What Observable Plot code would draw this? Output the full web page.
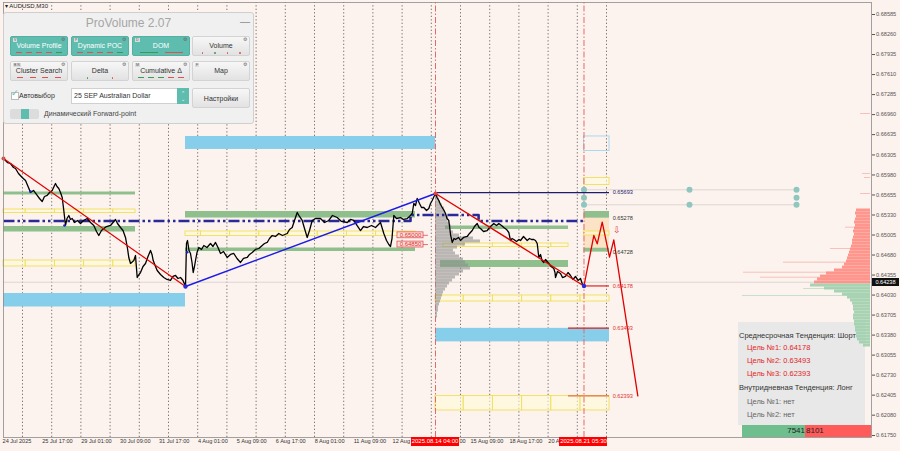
<!DOCTYPE html>
<html><head><meta charset="utf-8">
<script src="https://cdn.jsdelivr.net/npm/d3@7"></script>
<script src="https://cdn.jsdelivr.net/npm/@observablehq/plot@0.6"></script>
<style>
body{margin:0;background:#fdf3ee;}
#wrap{position:relative;width:900px;height:451px;overflow:hidden;background:#fdf3ee;font-family:"Liberation Sans",Arial,sans-serif;}
#chartHolder{position:absolute;left:0;top:0;z-index:1}
#info{position:absolute;left:738px;top:322px;width:127px;height:103px;background:#e8e8e8;z-index:0;font-size:7.5px;}
#info div{position:absolute;white-space:nowrap;line-height:10px}
.red{color:#e22626}.gry{color:#666}.dk{color:#333}
.vbar{position:absolute;top:425px;height:12px;font-size:8px;line-height:12px;color:#222;z-index:0}
.dlab{position:absolute;top:437px;height:9px;background:#ff0000;color:#fff;font-size:6px;line-height:9px;text-align:center;z-index:3;white-space:nowrap}
#cur{position:absolute;left:872px;width:27px;height:8px;background:#111;color:#fff;font-size:5.6px;line-height:8px;text-align:center;z-index:3}
#sym{position:absolute;left:5px;top:2px;font-size:6px;color:#222;z-index:3;white-space:nowrap}
#panel{position:absolute;left:3px;top:12px;width:251px;height:112px;background:#f0f0f0;border:1px solid #cfcfcf;border-radius:3px;z-index:4;box-sizing:border-box}
.ttl{position:absolute;left:0;width:100%;top:3px;text-align:center;font-size:12px;color:#a5a5a5}
.min{position:absolute;left:236px;top:3px;font-size:10px;color:#8a8a8a}
.btn{position:absolute;width:58px;height:20px;border-radius:2px;box-sizing:border-box;border:1px solid #d3d3d3;background:linear-gradient(#f7f7f7,#e2e2e2);color:#333}
.btn.teal{background:#5ebdaf;border-color:#52b1a3;color:#fff}
.lbl{position:absolute;left:0;right:0;top:5px;text-align:center;font-size:7px;line-height:8px;white-space:nowrap}
.key{position:absolute;left:2px;top:1px;font-size:3.5px;line-height:4px;background:#dcdcdc;color:#555;padding:0 1px}
.gear{position:absolute;right:2px;top:0px;font-size:4.5px;color:#666}
.ind{position:absolute;left:3px;right:3px;bottom:2px;height:1px;display:flex;justify-content:space-around}
.ind i{display:block;width:6px;height:1px;background:#e05050}
.ind i.g{background:#3a9a50}
.ind i.d{width:1.5px;height:1.5px;border-radius:1px}
.p3{position:absolute;font-size:7px;color:#333;white-space:nowrap}
</style></head><body><div id="wrap"></div>
<script>
// ---------- DATA ----------
const yTicks = [0.68585,0.68260,0.67935,0.67610,0.67285,0.66960,0.66635,0.66305,0.65980,0.65655,0.65330,0.65005,0.64680,0.64355,0.64030,0.63705,0.63380,0.63055,0.62730,0.62405,0.62080,0.61750];
// visible parts of the time labels (the rest is hidden under the red date boxes)
const xTickDays = [-0.65,0.708,2.042,3.375,4.708,6.042,7.375,8.708,10.042,11.375,12.708,15.0,15.375,16.708,18.042];
const xTickLabels = ["24 Jul 2025","25 Jul 17:00","29 Jul 01:00","30 Jul 09:00","31 Jul 17:00","4 Aug 01:00","5 Aug 09:00","6 Aug 17:00","8 Aug 01:00","11 Aug 09:00","12 Aug","00","15 Aug 09:00","18 Aug 17:00","20 A"];
const dayLines = [0,1,2,3,4,5,6,7,8,9,10,11,12,13,14,15,16,17,18,19,20];
const eventDays = [14.144,19.229];
const eventLabels = ["2025.08.14 04:00","2025.08.21 05:30"];
const currentPrice = 0.64238;

// price path: [trading day, price]
const priceSeries = [[-0.651,0.66247],[-0.514,0.66182],[-0.411,0.66166],[-0.308,0.66101],[-0.240,0.66085],[-0.137,0.66004],[-0.010,0.65939],[0.103,0.65890],[0.205,0.65777],[0.274,0.65695],[0.377,0.65728],[0.503,0.65647],[0.582,0.65598],[0.675,0.65549],[0.753,0.65630],[0.846,0.65647],[0.925,0.65695],[1.017,0.65728],[1.096,0.65809],[1.130,0.65841],[1.182,0.65793],[1.243,0.65760],[1.301,0.65695],[1.360,0.65614],[1.414,0.65403],[1.473,0.65160],[1.524,0.65273],[1.586,0.65322],[1.644,0.65257],[1.702,0.65273],[1.781,0.65208],[1.884,0.65241],[1.986,0.65192],[2.089,0.65241],[2.216,0.65273],[2.329,0.65208],[2.442,0.65160],[2.534,0.65062],[2.613,0.64997],[2.705,0.65078],[2.784,0.65111],[2.877,0.65143],[3.014,0.65160],[3.099,0.65208],[3.185,0.65257],[3.253,0.65192],[3.356,0.65127],[3.442,0.65078],[3.527,0.64965],[3.596,0.64786],[3.640,0.64640],[3.699,0.64543],[3.812,0.64591],[3.870,0.64672],[3.928,0.64315],[3.990,0.64364],[4.041,0.64396],[4.127,0.64494],[4.212,0.64543],[4.298,0.64656],[4.384,0.64754],[4.435,0.64689],[4.476,0.64591],[4.555,0.64494],[4.613,0.64429],[4.726,0.64364],[4.839,0.64315],[4.949,0.64283],[5.068,0.64267],[5.154,0.64332],[5.240,0.64348],[5.325,0.64299],[5.411,0.64315],[5.497,0.64267],[5.582,0.64169],[5.616,0.64867],[5.651,0.64916],[5.702,0.64754],[5.753,0.64705],[5.805,0.64559],[5.846,0.64396],[5.890,0.64494],[5.925,0.64591],[5.976,0.64721],[6.038,0.64802],[6.130,0.64770],[6.209,0.64835],[6.318,0.64802],[6.438,0.64867],[6.524,0.64819],[6.610,0.64884],[6.695,0.64802],[6.781,0.64705],[6.884,0.64737],[7.010,0.64640],[7.123,0.64689],[7.236,0.64705],[7.346,0.64624],[7.466,0.64559],[7.568,0.64624],[7.695,0.64640],[7.774,0.64689],[7.866,0.64721],[7.979,0.64770],[8.092,0.64786],[8.209,0.64835],[8.288,0.64867],[8.380,0.64884],[8.459,0.64948],[8.551,0.64997],[8.664,0.64981],[8.777,0.65030],[8.904,0.64997],[9.065,0.65030],[9.144,0.65095],[9.236,0.65127],[9.315,0.65241],[9.408,0.65371],[9.486,0.65306],[9.579,0.65241],[9.658,0.65111],[9.750,0.64965],[9.829,0.65078],[9.921,0.65241],[10.034,0.65273],[10.205,0.65273],[10.342,0.65208],[10.490,0.65241],[10.616,0.65322],[10.777,0.65289],[10.925,0.65225],[11.120,0.65208],[11.233,0.65257],[11.346,0.65241],[11.456,0.65160],[11.575,0.65078],[11.678,0.65143],[11.805,0.65127],[11.952,0.65160],[12.089,0.65127],[12.192,0.65176],[12.260,0.65208],[12.373,0.65030],[12.466,0.64916],[12.545,0.64851],[12.603,0.64819],[12.654,0.64948],[12.716,0.65322],[12.808,0.65273],[12.945,0.65289],[13.048,0.65257],[13.175,0.65273],[13.253,0.65306],[13.346,0.65354],[13.401,0.65517],[13.459,0.65484],[13.517,0.65598],[13.596,0.65517],[13.664,0.65452],[13.743,0.65452],[13.836,0.65403],[13.914,0.65436],[13.973,0.65517],[14.031,0.65565],[14.092,0.65630],[14.144,0.65679],[14.195,0.65614],[14.257,0.65565],[14.315,0.65500],[14.373,0.65452],[14.435,0.65403],[14.486,0.65354],[14.538,0.65273],[14.599,0.65241],[14.634,0.65111],[14.658,0.65013],[14.716,0.64884],[14.777,0.64948],[14.829,0.64932],[14.932,0.64965],[15.000,0.64916],[15.103,0.64965],[15.229,0.64981],[15.308,0.65030],[15.402,0.65078],[15.479,0.65143],[15.572,0.65192],[15.634,0.65127],[15.685,0.65111],[15.788,0.65062],[15.914,0.65078],[16.027,0.65143],[16.140,0.65192],[16.233,0.65160],[16.312,0.65192],[16.404,0.65160],[16.483,0.65127],[16.575,0.65095],[16.654,0.65046],[16.712,0.64916],[16.764,0.64948],[16.825,0.64932],[16.918,0.64900],[17.003,0.64932],[17.055,0.64916],[17.158,0.64981],[17.284,0.64916],[17.363,0.64948],[17.432,0.64932],[17.510,0.64932],[17.568,0.64916],[17.627,0.64867],[17.682,0.64640],[17.740,0.64689],[17.791,0.64591],[17.853,0.64559],[17.911,0.64608],[18.024,0.64543],[18.099,0.64494],[18.195,0.64461],[18.236,0.64396],[18.253,0.64315],[18.322,0.64413],[18.425,0.64380],[18.493,0.64315],[18.596,0.64332],[18.682,0.64396],[18.767,0.64348],[18.853,0.64283],[18.938,0.64332],[19.024,0.64267],[19.110,0.64299],[19.188,0.64185]];

const markerPoints = [[0.274,0.65711],[1.438,0.65160],[5.640,0.64726]];
const trendRed1 = [[-0.651,0.66247],[5.582,0.64169]];
const trendBlue = [[5.582,0.64169],[14.144,0.65679]];
const trendRed2 = [[14.144,0.65679],[19.229,0.64178]];
const pivotRed = [[-0.651,0.66247],[14.144,0.65679]];
const pivotBlue = [[5.582,0.64169],[19.229,0.64178]];
const forecast = [[19.229,0.64178],[19.565,0.64997],[19.682,0.64862],[19.853,0.65213],[20.103,0.64645],[20.250,0.64927],[21.072,0.62393]];
const pocPath = [[-0.651,0.65232],[13.288,0.65232],[13.288,0.65330],[15.620,0.65330],[15.620,0.65232],[19.229,0.65232]];

const greenZones = [
 {d1:-0.651,d2:3.870,hi:0.65703,lo:0.65655},
 {d1:-0.651,d2:3.870,hi:0.65143,lo:0.65054},
 {d1:5.582,d2:13.459,hi:0.65387,lo:0.65281},
 {d1:5.582,d2:13.459,hi:0.64794,lo:0.64737},
 {d1:14.486,d2:18.699,hi:0.65151,lo:0.65095},
 {d1:14.315,d2:18.699,hi:0.64591,lo:0.64478},
 {d1:19.229,d2:20.103,hi:0.65387,lo:0.65278},
 {d1:19.229,d2:20.103,hi:0.64790,lo:0.64728}];
const blueZones = [
 {d1:-0.651,d2:5.582,hi:0.64056,lo:0.63836},
 {d1:5.582,d2:14.144,hi:0.66605,lo:0.66394},
 {d1:14.144,d2:20.103,hi:0.63490,lo:0.63270}];
const blueOutlines = [{d1:19.229,d2:20.103,hi:0.66605,lo:0.66369}];
const peachZones = [{d1:19.229,d2:20.103,hi:0.65278,lo:0.64728}];
const yellowRows = [
 {d1:-0.651,d2:3.870,hi:0.65419,lo:0.65363},
 {d1:-0.651,d2:3.870,hi:0.64591,lo:0.64494},
 {d1:5.582,d2:13.459,hi:0.65062,lo:0.64989},
 {d1:14.410,d2:18.699,hi:0.64867,lo:0.64810},
 {d1:14.144,d2:20.103,hi:0.64023,lo:0.63926},
 {d1:14.144,d2:20.103,hi:0.62390,lo:0.62156},
 {d1:19.229,d2:20.103,hi:0.65931,lo:0.65817},
 {d1:19.229,d2:20.103,hi:0.65062,lo:0.64997}];

const navyLevel = {p:0.65693,d1:14.144,d2:20.103};
const targets = [{p:0.64178,d1:19.229,c:"#e01f1f"},{p:0.63493,d1:18.699,c:"#e01f1f"},{p:0.62393,d1:18.699,c:"#e3733a"}];
const targetEnd = 20.103;
const levelLabels = [
 {p:0.65693,t:"0.65693",c:"#1c1c70"},{p:0.65278,t:"0.65278",c:"#333"},{p:0.64728,t:"0.64728",c:"#333"},
 {p:0.64178,t:"0.64178",c:"#e03030"},{p:0.63493,t:"0.63493",c:"#e03030"},{p:0.62393,t:"0.62393",c:"#e03030"}];
const levelLabelDay = 20.21;
const pivotBoxes = [{p:0.65000,t:"0.65000"},{p:0.64850,t:"0.64850"}];
const pivotBoxDays = [12.842,13.733];
const arrowMark = {d:20.21,p:0.65078};

const tealDots = [[19.229,0.65739],[19.229,0.65609],[19.229,0.65496],[22.842,0.65739],[22.842,0.65496],[26.507,0.65739],[26.507,0.65609],[26.507,0.65496]];
const tealLines = [0.65739,0.65496];
const tealSpan = [19.229,26.507];

// left (session) volume profile [price, volume]
const sessionProfileStart = 14.144;
const sessionProfile = [[0.65630,3],[0.65581,4],[0.65533,5],[0.65484,7],[0.65435,9],[0.65387,10],[0.65338,11],[0.65289,13],[0.65241,12],[0.65192,14],[0.65143,16],[0.65095,15],[0.65046,18],[0.64997,24],[0.64948,38],[0.64900,45],[0.64851,30],[0.64802,22],[0.64753,18],[0.64705,20],[0.64656,24],[0.64607,28],[0.64559,30],[0.64510,33],[0.64461,35],[0.64413,28],[0.64364,24],[0.64315,20],[0.64266,17],[0.64218,14],[0.64169,12],[0.64120,10],[0.64072,8],[0.64023,7],[0.63974,6],[0.63926,5],[0.63877,4],[0.63828,3],[0.63779,3],[0.63731,2],[0.63682,2]];
// right-edge profile (sell above / buy below)
const sellProfile = [[0.65403,14],[0.65354,15],[0.65305,14],[0.65257,15],[0.65208,16],[0.65159,15],[0.65111,16],[0.65062,17],[0.65013,16],[0.64965,17],[0.64916,18],[0.64867,18],[0.64818,19],[0.64770,20],[0.64721,21],[0.64672,22],[0.64624,23],[0.64575,24],[0.64526,26],[0.64477,28],[0.64429,36],[0.64380,44],[0.64331,50],[0.64283,53],[0.64234,56]];
const buyProfile = [[0.64185,60],[0.64137,46],[0.64088,36],[0.64039,28],[0.63990,23],[0.63942,20],[0.63893,18],[0.63844,17],[0.63796,17],[0.63747,16],[0.63698,17],[0.63650,17],[0.63601,16],[0.63552,16],[0.63503,15],[0.63455,15],[0.63406,14],[0.63357,14],[0.63309,13],[0.63260,11],[0.63211,7]];
const sellWisps = [[0.66978,10],[0.66004,8],[0.65939,6],[0.65679,10],[0.65132,25],[0.64786,40],[0.64564,87],[0.64401,127],[0.64320,110]];
const buyWisps = [[0.64137,67],[0.64023,128]];

// ---------- CHART ----------
const xMin = -0.6507, xMax = 29.075;
const yMin = 0.617175, yMax = 0.68780;
const volToDays = 1/29.2;
const bin = 0.000487;
const profEdge = 29.041;

function splitRow(r){
  const segs=[]; let a=r.d1;
  for(let b=Math.ceil(r.d1-0.11)+0.11; b<r.d2-0.05; b+=1){ if(b>a+0.05){segs.push({...r,d1:a,d2:b}); a=b;} }
  segs.push({...r,d1:a,d2:r.d2}); return segs;
}
const yellowSegs = yellowRows.flatMap(splitRow);
const tickMap = new Map(xTickDays.map((d,i)=>[d,xTickLabels[i]]));
const X = d=>d[0], Y = d=>d[1];

const chart = Plot.plot({
  width:900, height:451, marginLeft:3, marginRight:29, marginTop:2, marginBottom:14,
  x:{domain:[xMin,xMax], axis:null},
  y:{domain:[yMin,yMax], axis:null},
  style:{background:"transparent", fontFamily:"Liberation Sans, Arial, sans-serif", overflow:"visible"},
  marks:[
    Plot.ruleX(dayLines,{y1:yMin,y2:yMax,stroke:"#3c3c3c",strokeWidth:0.7,strokeDasharray:"1.3,2.2"}),
    Plot.ruleY([currentPrice],{x1:xMin,x2:xMax,stroke:"#d9d1cd",strokeWidth:0.9}),
    Plot.rect(blueZones,{x1:"d1",x2:"d2",y1:"lo",y2:"hi",fill:"#87ceeb"}),
    Plot.rect(peachZones,{x1:"d1",x2:"d2",y1:"lo",y2:"hi",fill:"#fde3c6"}),
    Plot.rect(greenZones,{x1:"d1",x2:"d2",y1:"lo",y2:"hi",fill:"#8fbf8c"}),
    Plot.rect(yellowSegs,{x1:"d1",x2:"d2",y1:"lo",y2:"hi",fill:"#fffbd8",fillOpacity:0.6,stroke:"#f1df5a",strokeWidth:0.9}),
    Plot.rect(blueOutlines,{x1:"d1",x2:"d2",y1:"lo",y2:"hi",fill:"none",stroke:"#a9d9ec",strokeWidth:1}),
    Plot.ruleX(eventDays,{y1:yMin,y2:yMax,stroke:"#e26a6a",strokeWidth:1,strokeDasharray:"6,2,1.5,2"}),
    Plot.rect(sessionProfile,{x1:()=>sessionProfileStart,x2:d=>sessionProfileStart+d[1]*volToDays,y1:d=>d[0]-bin/2,y2:d=>d[0]+bin/2,fill:"#8e8e8e",fillOpacity:0.6}),
    Plot.ruleY(sellWisps,{y:d=>d[0],x1:d=>profEdge-d[1]*volToDays,x2:()=>profEdge,stroke:"#f2b4ac",strokeWidth:0.8}),
    Plot.ruleY(buyWisps,{y:d=>d[0],x1:d=>profEdge-d[1]*volToDays,x2:()=>profEdge,stroke:"#b6dbc1",strokeWidth:0.8}),
    Plot.rect(sellProfile,{x1:d=>profEdge-d[1]*volToDays,x2:()=>profEdge,y1:d=>d[0]-bin/2,y2:d=>d[0]+bin/2,fill:"#ff8c83",fillOpacity:0.9}),
    Plot.rect(buyProfile,{x1:d=>profEdge-d[1]*volToDays,x2:()=>profEdge,y1:d=>d[0]-bin/2,y2:d=>d[0]+bin/2,fill:"#9dcfac",fillOpacity:0.9}),
    Plot.ruleY(tealLines,{x1:tealSpan[0],x2:tealSpan[1],stroke:"#dcd6d2",strokeWidth:1}),
    Plot.dot(tealDots,{x:X,y:Y,r:3,fill:"#90c6c0"}),
    Plot.line(pocPath,{x:X,y:Y,stroke:"#2a2a96",strokeWidth:2.6,strokeDasharray:"11,3,2.5,3,2.5,3",strokeLinecap:"butt"}),
    Plot.ruleY([navyLevel],{y:"p",x1:"d1",x2:"d2",stroke:"#1c1c70",strokeWidth:1.2}),
    Plot.line(priceSeries,{x:X,y:Y,stroke:"#000",strokeWidth:1.3}),
    Plot.dot(markerPoints,{x:X,y:Y,r:1.3,fill:"#2222cc"}),
    Plot.line(trendRed1,{x:X,y:Y,stroke:"#e30000",strokeWidth:1.2}),
    Plot.line(trendBlue,{x:X,y:Y,stroke:"#1c1ce6",strokeWidth:1.4}),
    Plot.line(trendRed2,{x:X,y:Y,stroke:"#e30000",strokeWidth:1.3}),
    Plot.ruleY(targets,{y:"p",x1:"d1",x2:()=>targetEnd,stroke:"c",strokeWidth:1.2}),
    Plot.line(forecast,{x:X,y:Y,stroke:"#e00000",strokeWidth:1.3}),
    Plot.dot(pivotRed,{x:X,y:Y,r:2,fill:"#e04040"}),
    Plot.dot(pivotBlue,{x:X,y:Y,r:2.2,fill:"#2b2bdd"}),
    Plot.ruleY(pivotBoxes,{y:"p",x1:pivotBoxDays[1],x2:pivotBoxDays[1]+0.17,stroke:"#e05050",strokeWidth:0.8}),
    Plot.rect(pivotBoxes,{x1:()=>pivotBoxDays[0],x2:()=>pivotBoxDays[1],y1:d=>d.p-0.00048,y2:d=>d.p+0.00048,fill:"#fde1dc",stroke:"#e05050",strokeWidth:0.8}),
    Plot.text(pivotBoxes,{x:()=>(pivotBoxDays[0]+pivotBoxDays[1])/2,y:"p",text:"t",fill:"#e03030",fontSize:6}),
    Plot.text(levelLabels,{x:()=>levelLabelDay,y:"p",text:"t",fill:"c",fontSize:5.6,textAnchor:"start"}),
    Plot.text([arrowMark],{x:"d",y:"p",text:()=>"⇩",fill:"#e04040",fontSize:9,textAnchor:"start"}),
    Plot.frame({stroke:"#8c8c8c",strokeWidth:0.8}),
    Plot.axisY(yTicks,{anchor:"right",tickSize:3,tickPadding:1.5,tickFormat:d=>d.toFixed(5),fontSize:5.6,color:"#555"}),
    Plot.axisX(xTickDays,{anchor:"bottom",tickSize:0,tickPadding:2,tickFormat:d=>tickMap.get(d),textAnchor:"start",fontSize:5.6,color:"#333",dx:-1})
  ]
});

const wrap = document.getElementById("wrap");
const holder = document.createElement("div"); holder.id="chartHolder"; holder.appendChild(chart); wrap.appendChild(holder);
const sx = chart.scale("x"), sy = chart.scale("y");

// info box (behind the svg)
wrap.insertAdjacentHTML("afterbegin", `
<div id="info">
 <div class="dk" style="left:1px;top:9px">Среднесрочная Тенденция: Шорт</div>
 <div class="red" style="left:9px;top:21px">Цель №1: 0.64178</div>
 <div class="red" style="left:9px;top:34px">Цель №2: 0.63493</div>
 <div class="red" style="left:9px;top:47px">Цель №3: 0.62393</div>
 <div class="dk" style="left:1px;top:60.5px">Внутридневная Тенденция: Лонг</div>
 <div class="gry" style="left:9px;top:74.5px">Цель №1: нет</div>
 <div class="gry" style="left:9px;top:88px">Цель №2: нет</div>
</div>
<div class="vbar" style="left:742px;width:63px;background:#6fbe8d;text-align:right;padding-right:0;box-sizing:border-box">7541</div>
<div class="vbar" style="left:805px;width:66px;background:#ff5b5b;padding-left:1px;box-sizing:border-box">8101</div>
`);

// date labels
eventDays.forEach((d,i)=>{
  const el=document.createElement("div"); el.className="dlab";
  el.style.left=(sx.apply(d)-24)+"px"; el.style.width="48px"; el.textContent=eventLabels[i]; wrap.appendChild(el);
});
const cur=document.createElement("div"); cur.id="cur"; cur.style.top=(sy.apply(currentPrice)-4)+"px"; cur.textContent=currentPrice.toFixed(5); wrap.appendChild(cur);

wrap.insertAdjacentHTML("beforeend", `<div id="sym">▾ AUDUSD,M30</div>
<div id="panel">
 <div class="ttl">ProVolume 2.07</div>
 <div class="min">—</div>
 <div class="btn teal" style="left:6px;top:23px"><span class="key">V</span><span class="gear">⚙</span><span class="lbl">Volume Profile</span><span class="ind"><i></i><i></i><i></i><i></i><i class="g"></i></span></div>
 <div class="btn teal" style="left:67px;top:23px"><span class="key">P</span><span class="gear">⚙</span><span class="lbl">Dynamic POC</span><span class="ind"><i></i><i></i><i></i><i></i><i class="g"></i></span></div>
 <div class="btn teal" style="left:128px;top:23px"><span class="key">D</span><span class="gear">⚙</span><span class="lbl">DOM</span><span class="ind"><i class="g" style="width:18px"></i><i style="width:18px"></i></span></div>
 <div class="btn" style="left:188px;top:23px"><span class="gear">⚙</span><span class="lbl">Volume</span><span class="ind"><i class="d"></i><i class="d g"></i><i class="d"></i><i class="d"></i></span></div>
 <div class="btn" style="left:6px;top:48px"><span class="key">B N</span><span class="gear">⚙</span><span class="lbl">Cluster Search</span><span class="ind"><i></i><i></i><i></i><i></i></span></div>
 <div class="btn" style="left:67px;top:48px"><span class="gear">⚙</span><span class="lbl">Delta</span><span class="ind"><i class="d g"></i><i class="d"></i></span></div>
 <div class="btn" style="left:128px;top:48px"><span class="key">M</span><span class="gear">⚙</span><span class="lbl">Cumulative Δ</span><span class="ind"><i class="g"></i><i class="g"></i><i class="g"></i><i></i><i></i></span></div>
 <div class="btn" style="left:188px;top:48px"><span class="key">F</span><span class="gear">⚙</span><span class="lbl">Map</span></div>
 <div style="position:absolute;left:7px;top:79px;width:6px;height:6px;background:#fff;border:1px solid #bbb"></div>
 <div style="position:absolute;left:7px;top:75px;font-size:9px;color:#5ebdaf">✓</div>
 <div class="p3" style="left:15px;top:79px">Автовыбор</div>
 <div style="position:absolute;left:67px;top:75px;width:118px;height:16px;background:#fff;border:1px solid #d0d0d0;box-sizing:border-box"></div>
 <div class="p3" style="left:70px;top:79px">25 SEP Australian Dollar</div>
 <div style="position:absolute;left:173px;top:75px;width:12px;height:16px;background:#5ebdaf;color:#fff;font-size:5px;line-height:6px;text-align:center;padding-top:2px;box-sizing:border-box">⌃<br>⌄</div>
 <div class="btn" style="left:188px;top:75px"><span class="lbl" style="top:6px">Настройки</span></div>
 <div style="position:absolute;left:6px;top:96px;width:29px;height:10px;background:#dcdcdc;border-radius:2px"></div>
 <div style="position:absolute;left:17px;top:96px;width:8px;height:10px;background:#5ebdaf"></div>
 <div class="p3" style="left:40px;top:97px;color:#444">Динамический Forward-point</div>
</div>`);
</script></body></html>
